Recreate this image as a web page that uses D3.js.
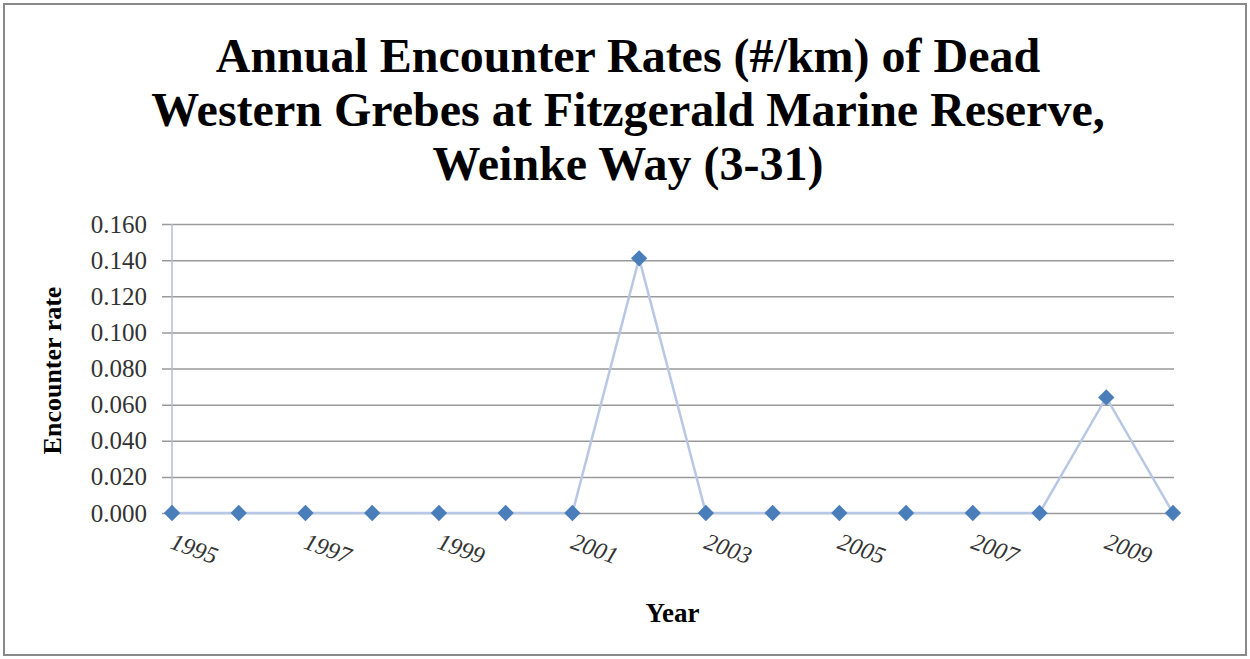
<!DOCTYPE html>
<html>
<head>
<meta charset="utf-8">
<script src="https://cdn.jsdelivr.net/npm/d3@7"></script>
<style>
  body { margin: 0; background: #fff; }
  svg { display: block; }
</style>
</head>
<body>
<svg width="1250" height="659"></svg>
<script>
var years = [1995, 1996, 1997, 1998, 1999, 2000, 2001, 2002, 2003, 2004, 2005, 2006, 2007, 2008, 2009, 2010];
var rates = [0, 0, 0, 0, 0, 0, 0, 0.141, 0, 0, 0, 0, 0, 0, 0.064, 0];
var yTicks = [0, 0.02, 0.04, 0.06, 0.08, 0.1, 0.12, 0.14, 0.16];
var xLabels = [1995, 1997, 1999, 2001, 2003, 2005, 2007, 2009];
var titleLines = ["Annual Encounter Rates (#/km) of Dead", "Western Grebes at Fitzgerald Marine Reserve,", "Weinke Way (3-31)"];

var svg = d3.select("svg"),
    margin = {top: 224, right: 77, bottom: 146, left: 172},
    width = +svg.attr("width") - margin.left - margin.right,
    height = +svg.attr("height") - margin.top - margin.bottom;

var serif = "'Liberation Serif', 'Times New Roman', serif";

// outer frame
svg.append("rect")
    .attr("x", 4).attr("y", 4)
    .attr("width", 1242).attr("height", 651)
    .attr("fill", "#fff")
    .attr("stroke", "#8a8a8a")
    .attr("stroke-width", 2);

svg.append("g")
    .selectAll("text")
    .data(titleLines)
    .enter().append("text")
    .attr("x", 628)
    .attr("y", function(d, i) { return 72 + i * 54; })
    .attr("text-anchor", "middle")
    .attr("font-family", serif)
    .attr("font-weight", "bold")
    .attr("font-size", "48px")
    .attr("fill", "#000")
    .text(function(d) { return d; });

var g = svg.append("g").attr("transform", "translate(" + margin.left + "," + margin.top + ")");

var x = d3.scalePoint()
    .domain(years)
    .range([0, width]);

var y = d3.scaleLinear()
    .domain([0, 0.16])
    .range([height, 0]);

// gridlines + left ticks
g.append("g")
    .attr("class", "axis--y")
    .call(d3.axisLeft(y).tickValues(yTicks).tickFormat(d3.format(".3f")).tickSize(-width - 10).tickPadding(25))
    .call(function(a) {
        a.select(".domain").remove();
        a.selectAll(".tick line").attr("x1", -10).attr("x2", width + 1).attr("stroke", "#9a9a9a").attr("stroke-width", 1.5);
        a.selectAll(".tick text").attr("font-family", serif).attr("font-size", "25px").attr("fill", "#333");
    });

// vertical axis line
g.append("line")
    .attr("x1", 0).attr("x2", 0)
    .attr("y1", 0).attr("y2", height)
    .attr("stroke", "#b4bccc")
    .attr("stroke-width", 1.5);

// x labels
g.append("g")
    .selectAll("text")
    .data(xLabels)
    .enter().append("text")
    .attr("transform", function(d) { return "translate(" + (x(d) - 3) + "," + (height + 35) + ") rotate(20)"; })
    .attr("font-family", serif)
    .attr("font-style", "italic")
    .attr("font-size", "24px")
    .attr("fill", "#333")
    .text(function(d) { return d; });

var pts = years.map(function(d, i) { return {year: d, rate: rates[i]}; });

var line = d3.line()
    .x(function(d) { return x(d.year); })
    .y(function(d) { return y(d.rate); });

g.append("path")
    .datum(pts)
    .attr("d", line)
    .attr("fill", "none")
    .attr("stroke", "#b8c8e4")
    .attr("stroke-width", 2.5);

g.append("g")
    .selectAll("path")
    .data(pts)
    .enter().append("path")
    .attr("transform", function(d) { return "translate(" + x(d.year) + "," + y(d.rate) + ")"; })
    .attr("d", d3.symbol().type(d3.symbolDiamond2).size(170))
    .attr("fill", "#4a7ebb");

// axis titles
svg.append("text")
    .attr("transform", "translate(61," + (margin.top + height / 2 + 2) + ") rotate(-90)")
    .attr("text-anchor", "middle")
    .attr("font-family", serif)
    .attr("font-weight", "bold")
    .attr("font-size", "26px")
    .text("Encounter rate");

svg.append("text")
    .attr("x", margin.left + width / 2)
    .attr("y", 622)
    .attr("text-anchor", "middle")
    .attr("font-family", serif)
    .attr("font-weight", "bold")
    .attr("font-size", "27px")
    .text("Year");
</script>
</body>
</html>
